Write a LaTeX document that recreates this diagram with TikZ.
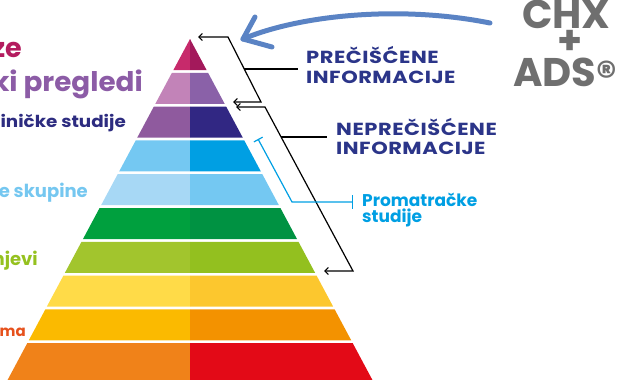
\documentclass[tikz,border=0pt]{standalone}
\usepackage{fontspec}
\setmainfont{Poppins}
\newfontfamily\widecaps[FakeStretch=1.2,LetterSpace=3]{Poppins}
\newfontfamily\widelow[FakeStretch=1.11]{Poppins}
\newfontfamily\midlow[FakeStretch=1.03]{Poppins}
\usetikzlibrary{arrows.meta,calc}
\definecolor{c1l}{HTML}{C72A6B}\definecolor{c1r}{HTML}{A3195B}
\definecolor{c2l}{HTML}{C283B8}\definecolor{c2r}{HTML}{8A61A8}
\definecolor{c3l}{HTML}{8F5A9E}\definecolor{c3r}{HTML}{312783}
\definecolor{c4l}{HTML}{74C8F2}\definecolor{c4r}{HTML}{009FE3}
\definecolor{c5l}{HTML}{A7D8F5}\definecolor{c5r}{HTML}{74C8F2}
\definecolor{c6l}{HTML}{00A03E}\definecolor{c6r}{HTML}{009242}
\definecolor{c7l}{HTML}{A2C52D}\definecolor{c7r}{HTML}{93C01F}
\definecolor{c8l}{HTML}{FFDB48}\definecolor{c8r}{HTML}{FCC72E}
\definecolor{c9l}{HTML}{FBBA00}\definecolor{c9r}{HTML}{F39200}
\definecolor{c10l}{HTML}{F08219}\definecolor{c10r}{HTML}{E30A17}
\definecolor{tmag}{HTML}{B41C5F}
\definecolor{tpur}{HTML}{8C5CA6}
\definecolor{tind}{HTML}{2D2C80}
\definecolor{tlbl}{HTML}{75C7F0}
\definecolor{tlim}{HTML}{95C11F}
\definecolor{tred}{HTML}{E6511C}
\definecolor{navy}{HTML}{2B3589}
\definecolor{cyanb}{HTML}{009FE3}
\definecolor{chxgray}{HTML}{6F6F6F}
\definecolor{arrblue}{HTML}{5A83C4}
\tikzset{
  lefttext/.style={anchor=base east, inner sep=0pt},
  caplabel/.style={anchor=base west, inner sep=0pt, text=navy, font=\widecaps\fontsize{17.5}{20}\selectfont\bfseries},
  bluelabel/.style={anchor=base west, inner sep=0pt, text=cyanb, font=\fontsize{17}{20}\selectfont\bfseries},
  chxtext/.style={anchor=base west, inner sep=0pt, text=chxgray, font=\fontsize{40}{40}\selectfont\bfseries},
  bracket/.style={black, line width=1.2pt, line join=miter, {Straight Barb[length=3.5pt,width=7pt]}-{Straight Barb[length=3.5pt,width=7pt]}},
  connector/.style={black, line width=1.2pt},
  bluebracket/.style={cyanb, line width=1.2pt, {Bar[width=10pt]}-{Bar[width=14pt]}},
}
\begin{document}
\begin{tikzpicture}[x=1pt,y=-1pt]
\useasboundingbox (0,0) rectangle (619,380);
% pyramid
\foreach \k/\cl/\cr in {0/c1l/c1r,1/c2l/c2r,2/c3l/c3r,3/c4l/c4r,4/c5l/c5r,5/c6l/c6r,6/c7l/c7r,7/c8l/c8r,8/c9l/c9r,9/c10l/c10r}{
  \pgfmathsetmacro\tt{39+33.8*\k}
  \pgfmathsetmacro\bb{\k==9 ? 381 : \tt+31}
  \pgfmathsetmacro\wt{0.535*(\tt-39)}
  \pgfmathsetmacro\wb{0.535*(\bb-39)}
  \fill[\cl] ({190-\wt},\tt) -- (190,\tt) -- (190,\bb) -- ({190-\wb},\bb) -- cycle;
  \fill[\cr] (190,\tt) -- ({190+\wt},\tt) -- ({190+\wb},\bb) -- (190,\bb) -- cycle;
}
% left texts
\node[lefttext, text=tmag, font=\fontsize{27}{30}\selectfont\bfseries] (t1) at (22,57) {ze};
\node[lefttext, text=tpur, font=\midlow\fontsize{27}{30}\selectfont\bfseries] (t2) at (143,91) {ki pregledi};
\node[lefttext, text=tind, font=\widelow\fontsize{16.5}{20}\selectfont\bfseries] (t3) at (126,127) {iničke studije};
\node[lefttext, text=tlbl, font=\fontsize{18}{20}\selectfont\bfseries] (t4) at (88,197) {e skupine};
\node[lefttext, text=tlim, font=\fontsize{18}{20}\selectfont\bfseries] (t5) at (38,265) {njevi};
\node[lefttext, text=tred, font=\fontsize{15}{20}\selectfont\bfseries] (t6) at (26,336) {ama};
% right labels
\node[caplabel] (l1a) at (306,63) {PREČIŠĆENE};
\node[caplabel] (l1b) at (306,83) {INFORMACIJE};
\node[caplabel] (l2a) at (336,135) {NEPREČIŠĆENE};
\node[caplabel] (l2b) at (336,154) {INFORMACIJE};
\node[bluelabel] (l3a) at (362,206) {Promatračke};
\node[bluelabel] (l3b) at (362,222) {studije};
% CHX + ADS
\node[chxtext] (chx) at (522,28) {CHX};
\node[chxtext] (plus) at (557,54) {+};
\node[chxtext] (ads) at (513,86) {ADS\raisebox{-3.5pt}{\fontsize{40}{40}\selectfont®}};
% brackets
\coordinate (b1tip) at (198,37);
\coordinate (b1top) at (228,37);
\coordinate (b1bot) at (261,102);
\coordinate (b1end) at (233,102);
\draw[bracket] (b1tip) -- (b1top) -- (b1bot) -- (b1end);
\coordinate (m1) at ($(b1top)!0.492!(b1bot)$);
\draw[connector] (m1) -- ([xshift=-8pt]l1a.west |- m1);
\coordinate (b2tip) at (236,107);
\coordinate (b2top) at (265,107);
\coordinate (b2bot) at (353,271);
\coordinate (b2end) at (324,271);
\draw[bracket] (b2tip) -- (b2top) -- (b2bot) -- (b2end);
\coordinate (m2) at ($(b2top)!0.183!(b2bot)$);
\draw[connector] (m2) -- ([xshift=-9pt]l2a.west |- m2);
\coordinate (b3top) at (258,139);
\coordinate (b3mid) at (292,202);
\draw[bluebracket] (b3top) -- (b3mid) -- ([xshift=-9pt]l3a.west |- b3mid);
% blue arrow
\coordinate (atip) at (243,39);
\coordinate (astart) at (490,23);
\draw[arrblue, line width=5pt, line cap=round, line join=round] (astart) .. controls (400,5) and (300,15) .. (atip);
\draw[arrblue, line width=5pt, line cap=round, line join=round] (255,17) -- (atip) -- (272,47);
\end{tikzpicture}
\end{document}
